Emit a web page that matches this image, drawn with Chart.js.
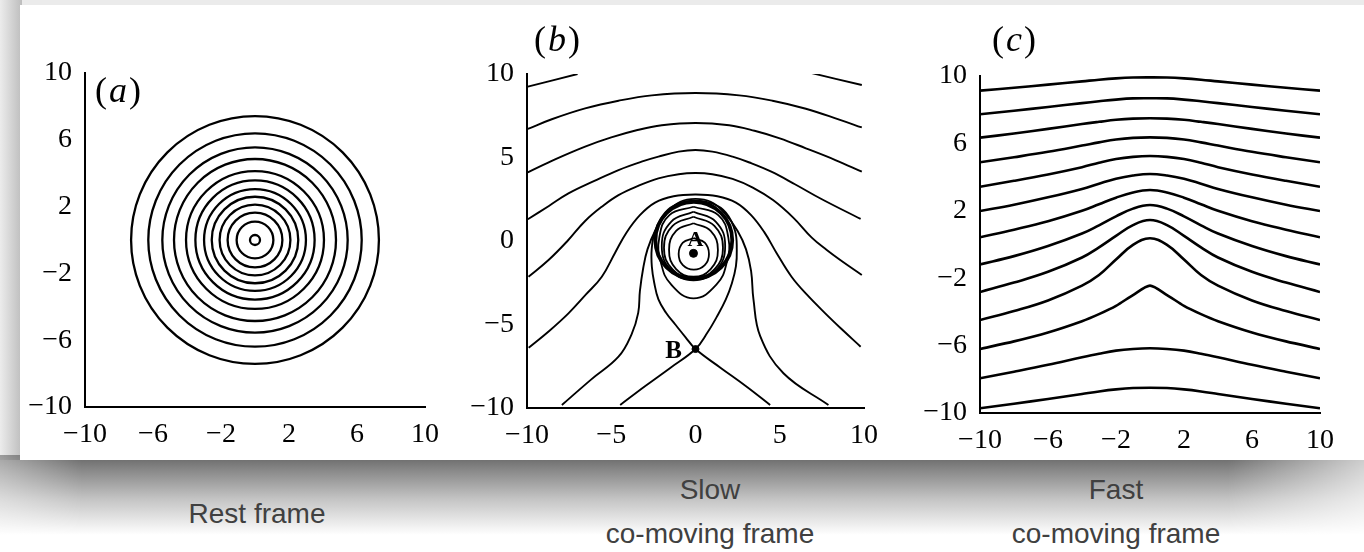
<!DOCTYPE html>
<html>
<head>
<meta charset="utf-8">
<script src="https://cdn.jsdelivr.net/npm/chart.js@4.4.1/dist/chart.umd.min.js"></script>
<style>
  body { margin: 0; width: 1364px; height: 552px; background: #fff; position: relative; overflow: hidden; }
  .topband { position: absolute; left: 0; top: 0; width: 1364px; height: 6px; background: #ebebeb; }
  .leftband { position: absolute; left: 0; top: 0; width: 22px; height: 460px; background: linear-gradient(to right, #ececec, #bdbdbd); }
  .shadow { position: absolute; left: 0; top: 455px; width: 1364px; height: 80px;
            background: linear-gradient(to bottom, #666 0%, #8a8a8a 20%, #c4c4c4 55%, #fff 100%);
            -webkit-mask-image: linear-gradient(to right, rgba(0,0,0,0.6) 0%, #000 6%, #000 90%, rgba(0,0,0,0.35) 100%);
            mask-image: linear-gradient(to right, rgba(0,0,0,0.6) 0%, #000 6%, #000 90%, rgba(0,0,0,0.35) 100%); }
  .card { position: absolute; left: 20px; top: 5px; width: 1344px; height: 455px; background: #fff; }
  canvas { position: absolute; top: 5px; }
  .caption { position: absolute; font-family: "Liberation Sans", Arial, sans-serif;
             font-size: 28px; line-height: 44px; color: #404040; text-align: center; width: 400px; }
</style>
</head>
<body>
<div class="topband"></div>
<div class="leftband"></div>
<div class="shadow"></div>
<div class="card"></div>
<canvas id="rest" width="440" height="455" style="left:20px"></canvas>
<canvas id="slow" width="440" height="455" style="left:460px"></canvas>
<canvas id="fast" width="464" height="455" style="left:900px"></canvas>
<div class="caption" style="left:57px; top:492px">Rest frame</div>
<div class="caption" style="left:510px; top:468px">Slow<br>co-moving frame</div>
<div class="caption" style="left:916px; top:468px">Fast<br>co-moving frame</div>
<script>
// tick values
const restTicks = [-10, -6, -2, 2, 6, 10];
const slowTicks = [-10, -5, 0, 5, 10];
const fastTicks = [-10, -6, -2, 2, 6, 10];

// (a) rest frame: concentric circle radii around the origin
const restRadii = [7.42, 6.39, 5.55, 4.85, 4.13, 3.57, 3.05, 2.59, 2.12, 1.64, 1.10, 0.30];

// (b) slow co-moving frame, contour lines
const slowTopLeft = [[-9.95, 9.24], [-7.0, 10.0]];
const slowTopRight = [[6.9, 10.05], [9.87, 9.34]];
const slowArc1 = [[-9.95, 6.71], [-8.53, 7.29], [-6.55, 7.94], [-4.57, 8.40], [-2.59, 8.72], [0, 8.86],
  [2.59, 8.72], [4.57, 8.40], [6.55, 7.92], [8.53, 7.27], [9.87, 6.8]];
const slowArc2 = [[-9.95, 4.11], [-8.3, 4.9], [-6.55, 5.65], [-5, 6.2], [-3.5, 6.63], [-2, 6.93], [0, 7.07],
  [2, 6.93], [3.5, 6.6], [5, 6.15], [6.55, 5.55], [8.3, 4.85], [9.87, 4.15]];
const slowArc3 = [[-9.95, 1.30], [-8.7, 2.1], [-7.54, 2.85], [-6, 3.6], [-4.57, 4.25], [-3.2, 4.75], [-2.2, 5.05],
  [-1, 5.35], [0, 5.45], [1, 5.35], [2.2, 5.05], [3.2, 4.7], [4.5, 4.15], [5.9, 3.4], [7.5, 2.5], [9.8, 1.32]];
const slowArc4 = [[-9.91, -2.14], [-8.72, -1.14], [-7.6, 0], [-6.55, 1.2], [-5.5, 2.1], [-4.57, 2.75], [-3.4, 3.3],
  [-2.2, 3.75], [-1, 4.0], [0, 4.07], [1, 4.0], [2.2, 3.72], [3.4, 3.2], [4.6, 2.45], [5.8, 1.4], [6.9, 0.2],
  [7.79, -0.54], [8.59, -1.14], [9.87, -2.04]];
const slowArc5 = [[-9.9, -6.39], [-8.7, -5.4], [-7.54, -4.33], [-6.5, -3.2], [-5.56, -2.14], [-4.77, -0.7],
  [-4.1, 0.5], [-3.3, 1.55], [-2.4, 2.3], [-1.3, 2.68], [0, 2.78], [1.3, 2.68], [2.4, 2.3], [3.3, 1.55],
  [4.1, 0.5], [4.8, -0.7], [5.7, -2.14], [6.6, -3.2], [7.7, -4.33], [8.7, -5.3], [9.8, -6.33]];
const slowNeck = [[-7.93, -9.82], [-6.2, -8.3], [-4.57, -6.93], [-3.8, -5.6], [-3.4, -4.3], [-3.3, -3.0],
  [-3.1, -1.6], [-2.85, -0.5], [-2.4, 0.6], [-1.7, 1.7], [-0.9, 2.35], [0, 2.52], [0.9, 2.35], [1.7, 1.7],
  [2.5, 0.6], [3.0, -0.5], [3.3, -1.8], [3.44, -3.5], [3.84, -5.7], [5.22, -7.92], [7.89, -9.82]];
const slowSeparatrix = [[-4.47, -9.82], [-3.0, -8.7], [-1.5, -7.6], [0, -6.47], [0.7, -5.5], [1.27, -4.53],
  [1.8, -3.5], [2.16, -2.53], [2.4, -1.5], [2.45, -0.54], [2.35, 0.6], [1.8, 1.7], [1.0, 2.25], [0, 2.42],
  [-1.0, 2.25], [-1.8, 1.7], [-2.4, 0.6], [-2.6, -0.5], [-2.59, -1.54], [-2.45, -2.5], [-2.2, -3.5],
  [-1.75, -4.3], [-1.2, -5.0], [-0.6, -5.75], [0, -6.47], [1.5, -7.6], [3.0, -8.7], [4.43, -9.82]];
const slowOval1 = [[-0.1, 0.17], [0.55, -0.1], [0.8, -0.78], [0.55, -1.45], [-0.1, -1.72], [-0.75, -1.45],
  [-1.0, -0.78], [-0.75, -0.1], [-0.1, 0.17]];
const slowOval2 = [[-0.12, 1.06], [0.9, 0.6], [1.33, -0.54], [0.9, -1.68], [-0.12, -2.14], [-1.15, -1.68],
  [-1.57, -0.54], [-1.15, 0.6], [-0.12, 1.06]];
const slowOval3 = [[-0.12, 1.45], [1.12, 0.9], [1.63, -0.4], [1.12, -1.7], [-0.12, -2.25], [-1.36, -1.7],
  [-1.87, -0.4], [-1.36, 0.9], [-0.12, 1.45]];
const slowOval4 = [[-0.12, 1.75], [1.21, 1.15], [1.76, -0.3], [1.21, -1.75], [-0.12, -2.35], [-1.45, -1.75],
  [-2.0, -0.3], [-1.45, 1.15], [-0.12, 1.75]];
const slowTeardrop = [[-0.12, 2.05], [1.35, 1.55], [1.95, 0.2], [1.85, -1.3], [1.25, -2.6], [-0.12, -3.43],
  [-1.45, -2.6], [-2.05, -1.3], [-2.15, 0.2], [-1.55, 1.55], [-0.12, 2.05]];
const slowRing = { x: -0.1, y: 0.05, r: 2.3 };
const pointA = { x: -0.12, y: -0.74 };
const pointB = { x: 0, y: -6.47 };

// (c) fast co-moving frame: level lines sampled at these x values
const fastX = [-10, -8, -6, -4, -3, -2, -1, 0, 1, 2, 3, 4, 6, 8, 10];
const fastLevels = [
  [9.13, 9.30, 9.49, 9.68, 9.78, 9.86, 9.91, 9.92, 9.91, 9.86, 9.78, 9.68, 9.49, 9.30, 9.13],
  [7.73, 7.94, 8.16, 8.39, 8.50, 8.60, 8.67, 8.68, 8.67, 8.60, 8.50, 8.39, 8.16, 7.94, 7.73],
  [6.34, 6.59, 6.86, 7.15, 7.28, 7.40, 7.47, 7.49, 7.47, 7.40, 7.28, 7.15, 6.86, 6.59, 6.34],
  [4.88, 5.18, 5.50, 5.87, 6.06, 6.23, 6.33, 6.36, 6.33, 6.23, 6.06, 5.87, 5.50, 5.18, 4.88],
  [3.43, 3.78, 4.16, 4.59, 4.85, 5.07, 5.20, 5.25, 5.20, 5.07, 4.85, 4.59, 4.16, 3.78, 3.43],
  [1.99, 2.36, 2.80, 3.30, 3.61, 3.90, 4.09, 4.18, 4.09, 3.90, 3.61, 3.30, 2.80, 2.36, 1.99],
  [0.43, 0.88, 1.38, 2.00, 2.39, 2.78, 3.09, 3.23, 3.09, 2.78, 2.39, 2.00, 1.38, 0.88, 0.43],
  [-1.18, -0.69, -0.09, 0.65, 1.14, 1.67, 2.13, 2.34, 2.13, 1.67, 1.14, 0.65, -0.09, -0.69, -1.18],
  [-2.82, -2.26, -1.62, -0.77, -0.17, 0.51, 1.15, 1.45, 1.15, 0.51, -0.17, -0.77, -1.62, -2.26, -2.82],
  [-4.48, -3.95, -3.32, -2.44, -1.81, -0.89, -0.02, 0.37, -0.02, -0.89, -1.81, -2.44, -3.32, -3.95, -4.48],
  [-6.20, -5.75, -5.22, -4.55, -4.13, -3.64, -3.00, -2.44, -3.00, -3.64, -4.13, -4.55, -5.22, -5.75, -6.20],
  [-7.94, -7.55, -7.14, -6.69, -6.48, -6.30, -6.20, -6.16, -6.20, -6.30, -6.48, -6.69, -7.14, -7.55, -7.94],
  [-9.72, -9.45, -9.17, -8.87, -8.72, -8.60, -8.52, -8.50, -8.52, -8.60, -8.72, -8.87, -9.17, -9.45, -9.72]
];

const SERIF = '"Liberation Serif", "DejaVu Serif", serif';
const toXY = pts => pts.map(p => ({ x: p[0], y: p[1] }));
const minusLabel = v => (v < 0 ? '\u2212' + Math.abs(v) : String(v));

// contour line dataset
function curve(pts, width, tension) {
  return {
    data: toXY(pts), showLine: true, borderColor: '#000', borderWidth: width,
    pointRadius: 0, tension: tension === undefined ? 0.4 : tension, fill: false
  };
}

// circle whose radius is given in data units, drawn as one point scaled by the y axis
function ring(cx, cy, r, width) {
  return {
    data: [{ x: cx, y: cy }], showLine: false,
    pointRadius: ctx => {
      const s = ctx.chart.scales.y;
      return Math.abs(s.getPixelForValue(r) - s.getPixelForValue(0));
    },
    pointBorderWidth: width, pointBorderColor: '#000', pointBackgroundColor: 'rgba(0,0,0,0)'
  };
}

// text labels: panel letters and A/B
const textPlugin = {
  id: 'panelText',
  afterDraw(chart, args, opts) {
    const ctx = chart.ctx;
    (opts.items || []).forEach(it => {
      let px = it.left, py = it.top;
      if (it.x !== undefined) {
        px = chart.scales.x.getPixelForValue(it.x);
        py = chart.scales.y.getPixelForValue(it.y);
      }
      ctx.save();
      ctx.fillStyle = '#000';
      ctx.textBaseline = 'middle';
      const gap = it.gap || 0;
      const fonts = it.parts.map(p => (p[1] ? 'italic ' : '') + (it.weight || '') + ' ' + it.size + 'px ' + SERIF);
      let total = 0;
      it.parts.forEach((p, i) => { ctx.font = fonts[i]; total += ctx.measureText(p[0]).width + (i ? gap : 0); });
      let cx = px - total / 2;
      it.parts.forEach((p, i) => {
        ctx.font = fonts[i];
        ctx.textAlign = 'left';
        ctx.fillText(p[0], cx, py);
        cx += ctx.measureText(p[0]).width + gap;
      });
      ctx.restore();
    });
  }
};

function axis(ticks, isX) {
  return {
    type: 'linear', min: -10, max: 10,
    afterBuildTicks: a => { a.ticks = ticks.map(v => ({ value: v })); },
    afterFit: s => { if (isX) s.height = 40; else s.width = 62; },
    grid: { display: false },
    border: { display: true, color: '#000', width: 2 },
    ticks: {
      color: '#000', padding: isX ? 3 : 5, maxRotation: 0, autoSkip: false,
      font: { family: SERIF, size: 28 }, callback: minusLabel
    }
  };
}

function makeChart(id, datasets, ticks, padding, items) {
  return new Chart(document.getElementById(id), {
    type: 'scatter',
    data: { datasets },
    options: {
      responsive: false, animation: false, devicePixelRatio: 1, events: [],
      layout: { padding },
      scales: { x: axis(ticks, true), y: axis(ticks, false) },
      plugins: { legend: { display: false }, tooltip: { enabled: false }, panelText: { items } }
    },
    plugins: [textPlugin]
  });
}

// (a)
makeChart('rest', restRadii.map(r => ring(0, 0, r, 2.3)), restTicks,
  { left: 3, right: 35, top: 68, bottom: 13 },
  [{ parts: [['(', false], ['a', true], [')', false]], left: 98, top: 88, size: 36, gap: 2 }]);

// (b)
const slowSets = [slowTopLeft, slowTopRight, slowArc1, slowArc2, slowArc3, slowArc4, slowArc5,
  slowNeck, slowSeparatrix].map(c => curve(c, 1.9));
[slowOval1, slowOval2, slowOval3, slowOval4, slowTeardrop].forEach(c => slowSets.push(curve(c, 1.8, 0.45)));
slowSets.push(ring(slowRing.x, slowRing.y, slowRing.r, 3.8));
slowSets.push({ data: [pointA, pointB], showLine: false, pointRadius: [4, 3.5],
  pointBackgroundColor: '#000', pointBorderColor: '#000' });
makeChart('slow', slowSets, slowTicks,
  { left: 5, right: 36, top: 69, bottom: 12 },
  [{ parts: [['(', false], ['b', true], [')', false]], left: 97, top: 37, size: 36, gap: 2 },
   { parts: [['A', false]], x: 0, y: 0.05, size: 22, weight: 'bold' },
   { parts: [['B', false]], x: -1.3, y: -6.6, size: 25, weight: 'bold' }]);

// (c)
makeChart('fast', fastLevels.map((ys, i) => curve(ys.map((y, j) => [fastX[j], y]), 2.6, i === 10 ? 0.25 : 0.4)),
  fastTicks, { left: 18, right: 44, top: 71, bottom: 7 },
  [{ parts: [['(', false], ['c', true], [')', false]], left: 114, top: 37, size: 36, gap: 2 }]);
</script>
</body>
</html>
